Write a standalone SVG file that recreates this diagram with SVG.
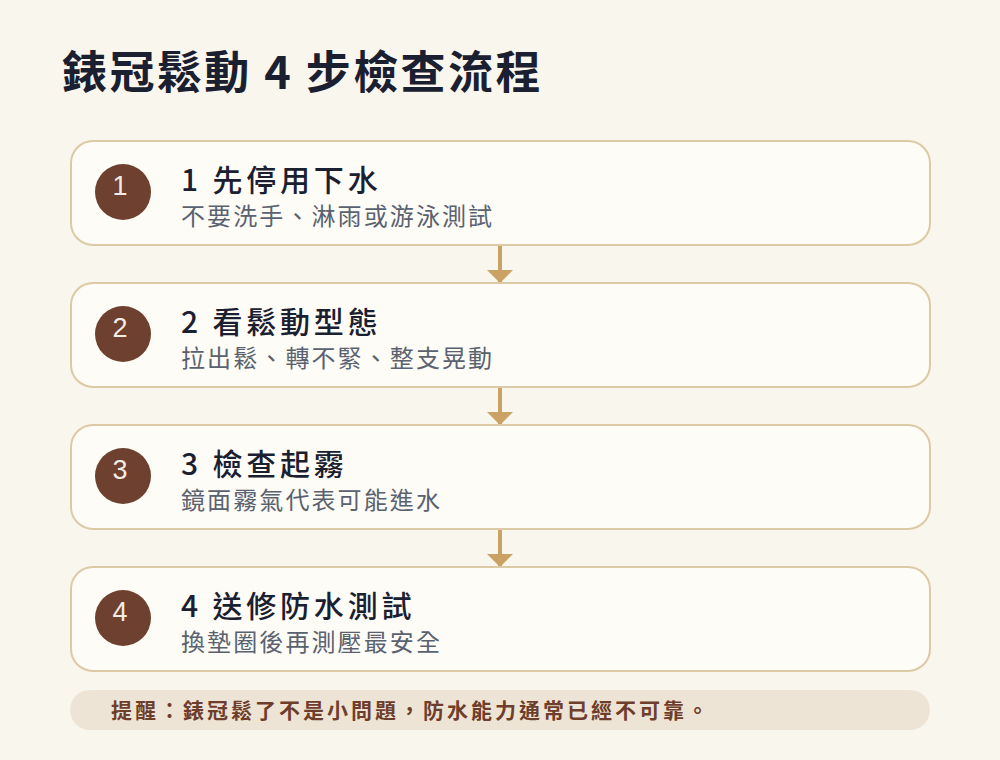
<svg xmlns="http://www.w3.org/2000/svg" width="1000" height="760" viewBox="0 0 1000 760">
<style>
.title{font-family:"Noto Sans CJK TC","Noto Sans CJK SC",sans-serif;font-weight:700;font-size:45px;letter-spacing:2.4px;fill:#1a2030}
.box{fill:#fefcf7;stroke:#dccaa6;stroke-width:2}
.num{fill:#6e402f}
.numt{font-family:"Liberation Sans","Noto Sans",sans-serif;font-size:27px;fill:#f4ece4;text-anchor:middle}
.h{font-family:"Noto Sans CJK TC","Noto Sans CJK SC",sans-serif;font-weight:500;font-size:30px;letter-spacing:3.8px;fill:#1a2030}
.s{font-family:"Noto Sans CJK TC","Noto Sans CJK SC",sans-serif;font-size:24px;letter-spacing:2.1px;fill:#5a6270}
.conn{stroke:#c9a264;stroke-width:4;fill:none}
.foot{font-family:"Noto Sans CJK TC","Noto Sans CJK SC",sans-serif;font-weight:700;font-size:21px;letter-spacing:3px;fill:#6e3e2c}
</style>
<defs>
<marker id="ah" viewBox="0 0 10 20" refX="10" refY="10" markerWidth="3.25" markerHeight="6.5" markerUnits="strokeWidth" orient="auto">
<path d="M0,0 L10,10 L0,20 z" fill="#c9a264"/>
</marker>
</defs>
<rect x="0" y="0" width="1000" height="760" fill="#f9f6ee"/>
<text class="title" x="62" y="89">錶冠鬆動 4 步檢查流程</text>
<g id="connectors">
<line class="conn" x1="500" y1="246" x2="500" y2="283" marker-end="url(#ah)"/>
<line class="conn" x1="500" y1="388" x2="500" y2="425" marker-end="url(#ah)"/>
<line class="conn" x1="500" y1="530" x2="500" y2="567" marker-end="url(#ah)"/>
</g>
<g id="step1">
<rect class="box" x="71" y="141" width="859" height="104" rx="22"/>
<circle class="num" cx="123" cy="192" r="28"/>
<text class="numt" x="120" y="195">1</text>
<text class="h" x="181" y="191">1 先停用下水</text>
<text class="s" x="181" y="225">不要洗手、淋雨或游泳測試</text>
</g>
<g id="step2">
<rect class="box" x="71" y="283" width="859" height="104" rx="22"/>
<circle class="num" cx="123" cy="334" r="28"/>
<text class="numt" x="120" y="337">2</text>
<text class="h" x="181" y="333">2 看鬆動型態</text>
<text class="s" x="181" y="367">拉出鬆、轉不緊、整支晃動</text>
</g>
<g id="step3">
<rect class="box" x="71" y="425" width="859" height="104" rx="22"/>
<circle class="num" cx="123" cy="476" r="28"/>
<text class="numt" x="120" y="479">3</text>
<text class="h" x="181" y="475">3 檢查起霧</text>
<text class="s" x="181" y="509">鏡面霧氣代表可能進水</text>
</g>
<g id="step4">
<rect class="box" x="71" y="567" width="859" height="104" rx="22"/>
<circle class="num" cx="123" cy="618" r="28"/>
<text class="numt" x="120" y="621">4</text>
<text class="h" x="181" y="617">4 送修防水測試</text>
<text class="s" x="181" y="651">換墊圈後再測壓最安全</text>
</g>
<g id="note">
<rect x="70" y="690" width="860" height="40" rx="20" fill="#eee4d5"/>
<text class="foot" x="111" y="718">提醒：錶冠鬆了不是小問題，防水能力通常已經不可靠。</text>
</g>
</svg>
